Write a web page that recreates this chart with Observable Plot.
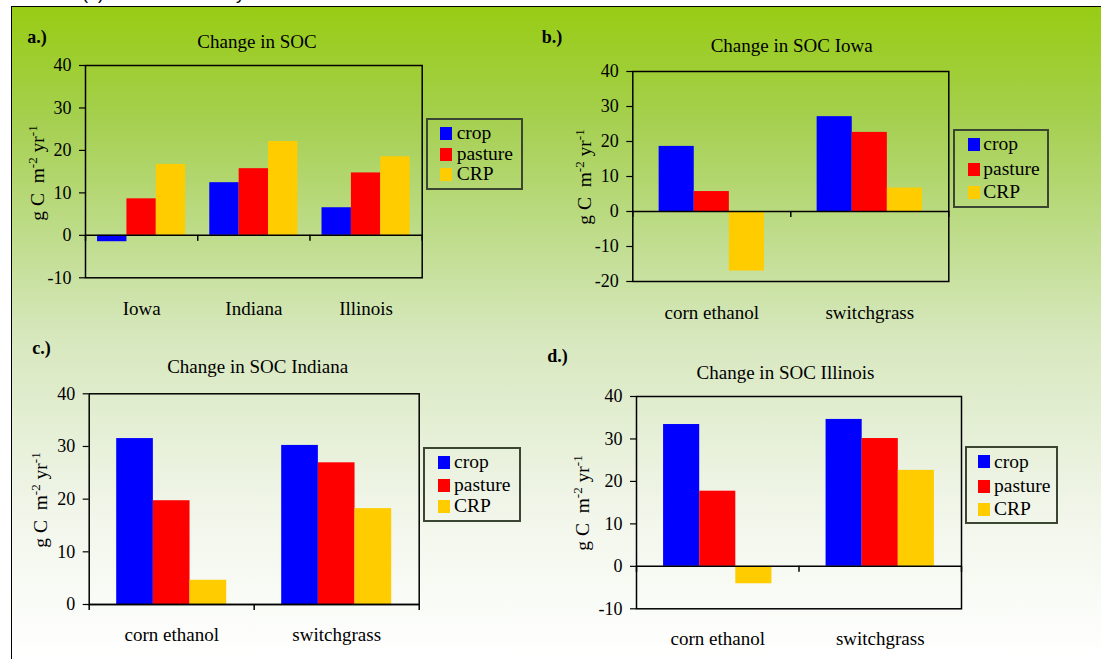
<!DOCTYPE html>
<html><head><meta charset="utf-8">
<script src="https://cdn.jsdelivr.net/npm/d3@7"></script>
<script src="https://cdn.jsdelivr.net/npm/@observablehq/plot@0.6"></script>
<style>
body{margin:0;background:#fff;}
#root{position:relative;width:1101px;height:659px;overflow:hidden;font-family:"Liberation Serif",serif;color:#000;}
#bg{position:absolute;left:11px;top:6px;width:1090px;height:653px;box-sizing:border-box;border-left:1.5px solid #000;border-top:1.5px solid #000;
 background:linear-gradient(to bottom, rgb(152,204,20) 0%, rgb(166,208,82) 18%, rgb(192,221,142) 36%, rgb(214,231,188) 50%, rgb(240,245,232) 76%, rgb(255,255,255) 100%);}
#cut{position:absolute;left:68px;top:-17px;font-family:"Liberation Sans",sans-serif;font-size:18px;white-space:nowrap;}
.abs{position:absolute;}
.title{font-size:19px;transform:translate(-50%,-50%);white-space:nowrap;}
.tag{font-size:18px;font-weight:bold;transform:translate(-50%,-50%);white-space:nowrap;}
.ylab{font-size:19.5px;transform:translate(-50%,-50%) rotate(-90deg);white-space:nowrap;}
.ylab sup{font-size:13px;vertical-align:0.55em;line-height:0;}
.lbox{position:absolute;box-sizing:border-box;border:2px solid #3b4632;}
.lrow{position:absolute;display:flex;align-items:center;height:22px;font-size:19.5px;white-space:nowrap;}
.sw{width:12px;height:13px;flex:none;}
svg{position:absolute;overflow:visible;}
</style>
</head><body>
<div id="root"><div id="bg"></div><div id="cut">s (d). Results are for year</div></div>
<script>
// ---- data ----
const series = ["crop", "pasture", "CRP"];
const seriesColors = ["#0000ff", "#ff0000", "#ffcc00"];
const states = ["Iowa", "Indiana", "Illinois"];
const fuels = ["corn ethanol", "switchgrass"];

// a.) Change in SOC (by state)
const socCrop = [-1.5, 12.4, 6.5];
const socPasture = [8.6, 15.7, 14.7];
const socCRP = [16.7, 22.1, 18.5];
// b.) Iowa
const iowaCrop = [18.6, 27.1];
const iowaPasture = [5.7, 22.6];
const iowaCRP = [-17.0, 6.7];
// c.) Indiana
const indianaCrop = [31.5, 30.2];
const indianaPasture = [19.7, 26.9];
const indianaCRP = [4.6, 18.2];
// d.) Illinois
const illinoisCrop = [33.4, 34.6];
const illinoisPasture = [17.7, 30.1];
const illinoisCRP = [-4.1, 22.6];

const ticksA = [-10, 0, 10, 20, 30, 40];
const ticksB = [-20, -10, 0, 10, 20, 30, 40];
const ticksC = [0, 10, 20, 30, 40];
const ticksD = [-10, 0, 10, 20, 30, 40];

// ---- layout ----
const panels = [
  {tag:"a.)", title:"Change in SOC", cats:states, values:[socCrop, socPasture, socCRP], yDomain:[-10,40], ticks:ticksA, gap:0.82,
   left:0, top:55, width:430, height:270, mL:85, mR:8.3, mT:10, mB:47.7, pad:23.5,
   titleXY:[257,42], tagXY:[37,37], ylabXY:[38,173], legend:{x:426, y:117.7, w:97, h:72.3, sx:440, tx:456.7, rows:[133.3,154.3,174]}},
  {tag:"b.)", title:"Change in SOC Iowa", cats:fuels, values:[iowaCrop, iowaPasture, iowaCRP], yDomain:[-20,40], ticks:ticksB, gap:1.5,
   left:545, top:60, width:410, height:270, mL:87.3, mR:6.7, mT:11, mB:49, pad:23.5,
   titleXY:[791.7,46], tagXY:[552,37], ylabXY:[585,177], legend:{x:952.7, y:128.7, w:96.5, h:79, sx:967.7, tx:983.3, rows:[144.3,169.3,192]}},
  {tag:"c.)", title:"Change in SOC Indiana", cats:fuels, values:[indianaCrop, indianaPasture, indianaCRP], yDomain:[0,40], ticks:ticksC, gap:1.5,
   left:0, top:383, width:425, height:276, mL:88.7, mR:6.3, mT:10.3, mB:55, pad:22.5,
   titleXY:[257.7,366.7], tagXY:[41.5,347.5], ylabXY:[41,500], legend:{x:423.3, y:446.7, w:97.7, h:75, sx:438, tx:454, rows:[462.3,485.3,506]}},
  {tag:"d.)", title:"Change in SOC Illinois", cats:fuels, values:[illinoisCrop, illinoisPasture, illinoisCRP], yDomain:[-10,40], ticks:ticksD, gap:1.5,
   left:545, top:386, width:420, height:273, mL:91, mR:4, mT:10, mB:50.7, pad:23,
   titleXY:[785.5,372.7], tagXY:[557.5,356], ylabXY:[583,503], legend:{x:965.3, y:445.7, w:93, h:78.6, sx:978, tx:994, rows:[461.7,486,509]}}
];

const root = document.getElementById("root");

function addDiv(cls, html, x, y) {
  const d = document.createElement("div");
  d.className = "abs " + cls;
  d.innerHTML = html;
  d.style.left = x + "px";
  d.style.top = y + "px";
  root.appendChild(d);
  return d;
}

for (const p of panels) {
  const n = p.cats.length;
  const w = 1 / (3 + p.gap), off = p.gap * w / 2;
  const rows = [];
  p.cats.forEach((c, i) => series.forEach((s, j) => rows.push({
    cat: c, series: s, value: p.values[j][i], x1: i + off + j * w, x2: i + off + (j + 1) * w
  })));
  const centers = p.cats.map((c, i) => i + 0.5);
  const bounds = d3.range(0, n + 1);

  const svg = Plot.plot({
    width: p.width, height: p.height,
    marginLeft: p.mL, marginRight: p.mR, marginTop: p.mT, marginBottom: p.mB,
    style: {background: "transparent", fontFamily: "Liberation Serif, serif", fontSize: "17.5px", color: "#000", overflow: "visible"},
    x: {domain: [0, n], axis: null},
    y: {domain: p.yDomain, axis: null},
    color: {domain: series, range: seriesColors},
    marks: [
      Plot.rect(rows, {x1: "x1", x2: "x2", y1: 0, y2: "value", fill: "series"}),
      Plot.ruleY([0], {stroke: "#000", strokeWidth: 1.5}),
      Plot.ruleX(bounds, {x: d => d, y1: 0, y2: 0, insetBottom: -6, stroke: "#000", strokeWidth: 1.5}),
      Plot.axisY({ticks: p.ticks, tickFormat: d => String(d), label: null, tickSize: 6, tickPadding: 8,
        fontSize: 18, fontFamily: "Liberation Serif", stroke: "#000", strokeWidth: 1.2}),
      Plot.axisX({ticks: centers, tickFormat: v => p.cats[Math.floor(v)], label: null, tickSize: 0, tickPadding: p.pad,
        fontSize: 19, fontFamily: "Liberation Serif"}),
      Plot.frame({stroke: "#000", strokeWidth: 1.5})
    ]
  });
  svg.style.left = p.left + "px";
  svg.style.top = p.top + "px";
  root.appendChild(svg);

  addDiv("title", p.title, p.titleXY[0], p.titleXY[1]);
  addDiv("tag", p.tag, p.tagXY[0], p.tagXY[1]);
  addDiv("ylab", "g C&nbsp; m<sup>-2</sup> yr<sup>-1</sup>", p.ylabXY[0], p.ylabXY[1]);

  const L = p.legend;
  const box = document.createElement("div");
  box.className = "lbox";
  Object.assign(box.style, {left: L.x + "px", top: L.y + "px", width: L.w + "px", height: L.h + "px"});
  root.appendChild(box);
  series.forEach((s, j) => {
    const r = document.createElement("div");
    r.className = "lrow";
    r.style.left = L.sx + "px";
    r.style.top = (L.rows[j] - 11) + "px";
    r.innerHTML = `<span class="sw" style="background:${seriesColors[j]}"></span><span style="margin-left:${L.tx - L.sx - 12}px">${s}</span>`;
    root.appendChild(r);
  });
}
</script>
</body></html>
